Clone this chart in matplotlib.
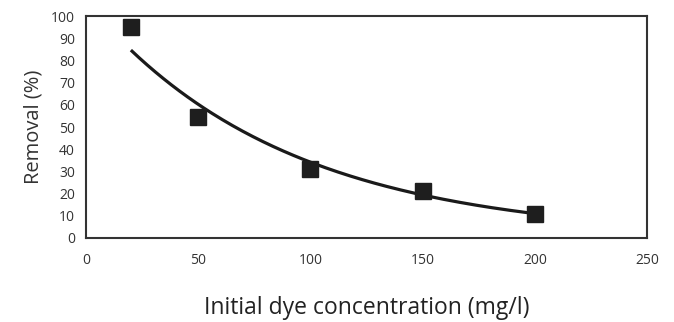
import matplotlib
matplotlib.use("Agg")
import matplotlib.pyplot as plt
import numpy as np

# measured points
concentration = [20, 50, 100, 150, 200]
removal = [95, 54.5, 31, 21, 11]

x_ticks = [0, 50, 100, 150, 200, 250]
y_ticks = list(range(0, 101, 10))

plt.rcParams["font.family"] = ["Open Sans", "DejaVu Sans"]

fig = plt.figure(figsize=(6.74, 3.22), dpi=100)
ax = fig.add_axes([0.1276, 0.261, 0.8324, 0.689])

# exponential trend line, fitted like a spreadsheet trendline
b, ln_a = np.polyfit(concentration, np.log(removal), 1)
xs = np.linspace(min(concentration), max(concentration), 200)
ax.plot(xs, np.exp(ln_a) * np.exp(b * xs), color="#1a1a1a", lw=2.3, solid_capstyle="butt")

ax.plot(concentration, removal, ls="none", marker="s", ms=11.5, color="#1e1e1e", mec="#1e1e1e")

ax.set_xlim(0, 250)
ax.set_ylim(0, 100)
ax.set_xticks(x_ticks)
ax.set_yticks(y_ticks)
ax.tick_params(length=0, labelsize=10, colors="#333333")
ax.tick_params(axis="x", pad=11)
ax.tick_params(axis="y", pad=8)
for s in ax.spines.values():
    s.set_linewidth(1.5)
    s.set_color("#333333")

ax.set_ylabel("Removal (%)", fontsize=14.5, color="#333333", labelpad=5)
ax.set_xlabel("Initial dye concentration (mg/l)", fontsize=16.5, color="#222222", labelpad=20)

fig.savefig("out.png", dpi=100, facecolor="white")
